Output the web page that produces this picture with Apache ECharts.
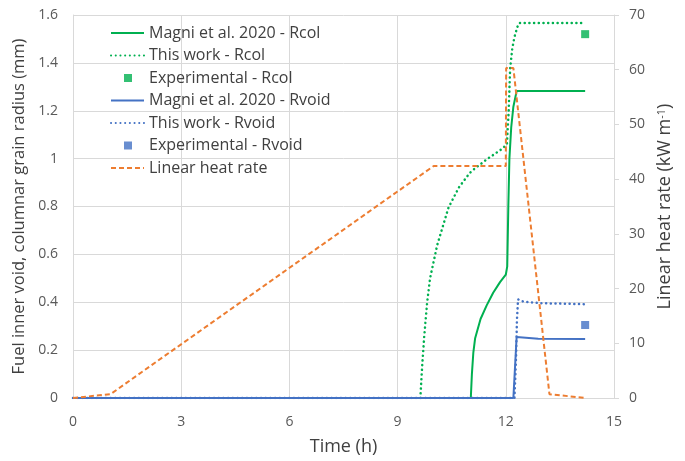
<!DOCTYPE html>
<html>
<head>
<meta charset="utf-8">
<script src="https://cdn.jsdelivr.net/npm/echarts@6/dist/echarts.min.js"></script>
<style>html,body{margin:0;padding:0;background:#fff}#c{width:685px;height:461px}</style>
</head>
<body>
<div id="c"></div>
<script>
// ---- Data ----
const xTicks = [0, 3, 6, 9, 12, 15];

// Magni et al. 2020 - Rcol (mm)
const rcolMagniT = [11.03, 11.06, 11.1, 11.15, 11.3, 11.47, 11.65, 11.84, 12.0, 12.04, 12.07, 12.1, 12.15, 12.21, 12.3, 14.2];
const rcolMagniV = [0, 0.1, 0.19, 0.25, 0.33, 0.387, 0.44, 0.484, 0.515, 0.55, 0.8, 1.0, 1.13, 1.217, 1.282, 1.282];

// This work - Rcol (mm)
const rcolWorkT = [9.63, 9.68, 9.74, 9.82, 9.9, 10.1, 10.41, 10.7, 11.0, 11.15, 11.5, 11.89, 12.03, 12.08, 12.12, 12.18, 12.24, 12.32, 12.38, 14.2];
const rcolWorkV = [0, 0.13, 0.26, 0.4, 0.5, 0.64, 0.795, 0.88, 0.94, 0.96, 1.0, 1.04, 1.06, 1.2, 1.376, 1.46, 1.508, 1.55, 1.567, 1.567];

// Experimental - Rcol (mm)
const rcolExpT = [14.2];
const rcolExpV = [1.52];

// Magni et al. 2020 - Rvoid (mm)
const rvoidMagniT = [0, 12.21, 12.3, 12.9, 14.2];
const rvoidMagniV = [0, 0, 0.255, 0.248, 0.246];

// This work - Rvoid (mm)
const rvoidWorkT = [0, 12.24, 12.28, 12.31, 12.34, 12.5, 13.0, 14.2];
const rvoidWorkV = [0, 0, 0.15, 0.33, 0.412, 0.402, 0.396, 0.392];

// Experimental - Rvoid (mm)
const rvoidExpT = [14.2];
const rvoidExpV = [0.305];

// Linear heat rate (kW/m)
const lhrT = [0, 1.04, 10.0, 12.0, 12.01, 12.21, 13.21, 14.2];
const lhrV = [0, 0.7, 42.4, 42.4, 60.3, 60.3, 0.7, 0];

const names = [
  'Magni et al. 2020 - Rcol',
  'This work - Rcol',
  'Experimental - Rcol',
  'Magni et al. 2020 - Rvoid',
  'This work - Rvoid',
  'Experimental - Rvoid',
  'Linear heat rate'
];

// ---- Build ----
const zip = (t, v) => t.map((x, i) => [x, v[i]]);
const GREEN = '#00b050', BLUE = '#4472c4', ORANGE = '#ed7d31';
const FONT = 'Open Sans';
const sqIcon = 'path://M0,0M33,14M13,3h8v8h-8z';
const noSym = {opacity: 0};

const chart = echarts.init(document.getElementById('c'), null, {renderer: 'canvas'});
chart.setOption({
  animation: false,
  backgroundColor: '#fff',
  textStyle: {fontFamily: FONT},
  grid: {left: 73, right: 71, top: 15, bottom: 61, containLabel: false},
  legend: {
    left: 110, top: 25, orient: 'vertical', padding: 0,
    itemWidth: 33, itemHeight: 14, itemGap: 6.5,
    textStyle: {fontFamily: FONT, fontSize: 16, color: '#404040'},
    data: [
      {name: names[0], itemStyle: noSym}, {name: names[1], itemStyle: noSym},
      {name: names[2], icon: sqIcon},
      {name: names[3], itemStyle: noSym}, {name: names[4], itemStyle: noSym},
      {name: names[5], icon: sqIcon},
      {name: names[6], itemStyle: noSym}
    ]
  },
  xAxis: {
    type: 'value', min: 0, max: 15, interval: 3,
    name: 'Time (h)', nameLocation: 'middle', nameGap: 40,
    nameTextStyle: {fontSize: 18, color: '#404040', fontFamily: FONT},
    axisLine: {show: true, lineStyle: {color: '#d9d9d9', width: 1}},
    axisTick: {show: false},
    axisLabel: {fontSize: 14, color: '#595959', margin: 17, fontFamily: FONT},
    splitLine: {show: true, lineStyle: {color: '#d9d9d9', width: 1}}
  },
  yAxis: [
    {
      type: 'value', min: 0, max: 1.6, interval: 0.2, position: 'left',
      name: 'Fuel inner void, columnar grain radius (mm)', nameLocation: 'middle', nameGap: 40,
      nameTextStyle: {fontSize: 16.5, color: '#404040', fontFamily: FONT},
      axisLine: {show: true, lineStyle: {color: '#d9d9d9', width: 1}},
      axisTick: {show: false},
      axisLabel: {fontSize: 14, color: '#595959', margin: 15, fontFamily: FONT},
      splitLine: {show: true, lineStyle: {color: '#d9d9d9', width: 1}}
    },
    {
      type: 'value', min: 0, max: 70, interval: 10, position: 'right',
      name: 'Linear heat rate (kW m{sup|-1})', nameLocation: 'middle', nameGap: 38,
      nameTextStyle: {fontSize: 18, color: '#404040', fontFamily: FONT,
        rich: {sup: {fontSize: 11, color: '#404040', verticalAlign: 'top', padding: [0, 0, 7, 0], fontFamily: FONT}}},
      axisLine: {show: true, lineStyle: {color: '#d9d9d9', width: 1}},
      axisTick: {show: true, length: 5, inside: false, lineStyle: {color: '#d9d9d9'}},
      axisLabel: {fontSize: 14, color: '#595959', margin: 15, fontFamily: FONT},
      splitLine: {show: false}
    }
  ],
  series: [
    {name: names[0], type: 'line', yAxisIndex: 0, symbol: 'none', data: zip(rcolMagniT, rcolMagniV),
      lineStyle: {color: GREEN, width: 2}, itemStyle: {color: GREEN}},
    {name: names[1], type: 'line', yAxisIndex: 0, symbol: 'none', data: zip(rcolWorkT, rcolWorkV),
      lineStyle: {color: GREEN, width: 2.5, type: [0.1, 4.6], cap: 'round'}, itemStyle: {color: GREEN}},
    {name: names[2], type: 'scatter', yAxisIndex: 0, symbol: 'rect', symbolSize: 8, data: zip(rcolExpT, rcolExpV),
      itemStyle: {color: GREEN}},
    {name: names[3], type: 'line', yAxisIndex: 0, symbol: 'none', data: zip(rvoidMagniT, rvoidMagniV),
      lineStyle: {color: BLUE, width: 2}, itemStyle: {color: BLUE}},
    {name: names[4], type: 'line', yAxisIndex: 0, symbol: 'none', data: zip(rvoidWorkT, rvoidWorkV),
      lineStyle: {color: BLUE, width: 2.5, type: [0.1, 4.6], cap: 'round'}, itemStyle: {color: BLUE}},
    {name: names[5], type: 'scatter', yAxisIndex: 0, symbol: 'rect', symbolSize: 8, data: zip(rvoidExpT, rvoidExpV),
      itemStyle: {color: BLUE}},
    {name: names[6], type: 'line', yAxisIndex: 1, symbol: 'none', data: zip(lhrT, lhrV),
      lineStyle: {color: ORANGE, width: 2, type: [5, 3]}, itemStyle: {color: ORANGE}}
  ]
});
</script>
</body>
</html>
